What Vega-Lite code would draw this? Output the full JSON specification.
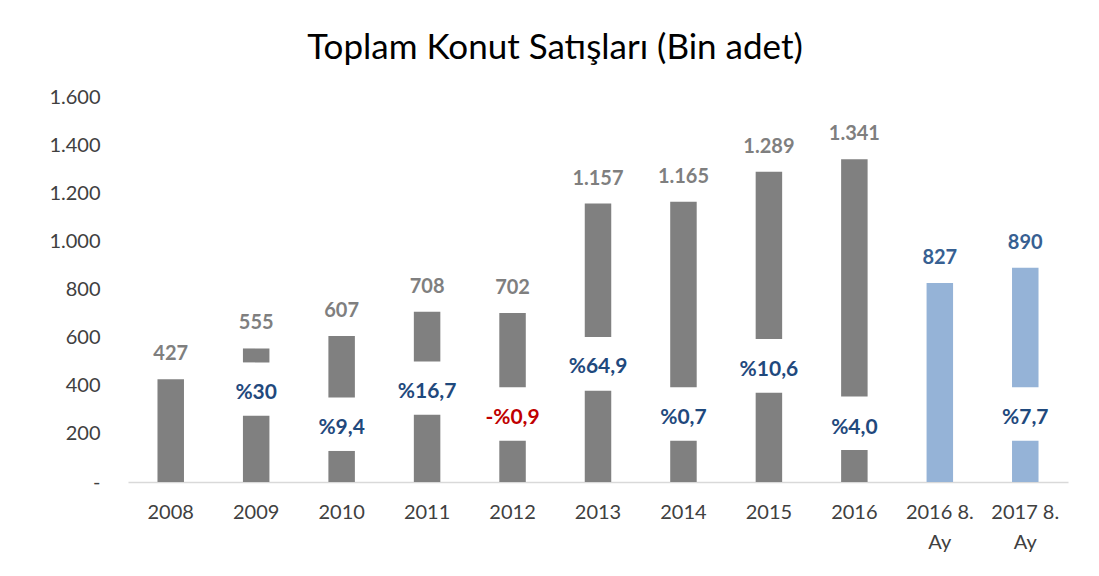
{
  "$schema": "https://vega.github.io/schema/vega-lite/v6.json",
  "autosize": "none",
  "width": 940,
  "height": 385,
  "padding": {"left": 128, "top": 97, "right": 31, "bottom": 94},
  "background": "white",
  "config": {
    "view": {"stroke": null},
    "font": "Lato",
    "locale": {"number": {"decimal": ",", "thousands": ".", "grouping": [3], "currency": ["", ""]}}
  },
  "title": {
    "text": "Toplam Konut Satışları (Bin adet)",
    "font": "Lato",
    "fontSize": 35,
    "fontWeight": "normal",
    "color": "#000000",
    "anchor": "middle",
    "dx": -43,
    "offset": 21
  },
  "data": {
    "values": [
      {"period": "2008", "type": "Yıllık", "value": 427, "lowTop": 427, "highBottom": null, "pctY": null, "change": null, "pct": null},
      {"period": "2009", "type": "Yıllık", "value": 555, "lowTop": 275, "highBottom": 497, "pctY": 370, "change": 30, "pct": "%30"},
      {"period": "2010", "type": "Yıllık", "value": 607, "lowTop": 129, "highBottom": 351, "pctY": 224, "change": 9.4, "pct": "%9,4"},
      {"period": "2011", "type": "Yıllık", "value": 708, "lowTop": 279, "highBottom": 501, "pctY": 374, "change": 16.7, "pct": "%16,7"},
      {"period": "2012", "type": "Yıllık", "value": 702, "lowTop": 171, "highBottom": 394, "pctY": 265, "change": -0.9, "pct": "-%0,9"},
      {"period": "2013", "type": "Yıllık", "value": 1157, "lowTop": 379, "highBottom": 603, "pctY": 478, "change": 64.9, "pct": "%64,9"},
      {"period": "2014", "type": "Yıllık", "value": 1165, "lowTop": 171, "highBottom": 394, "pctY": 265, "change": 0.7, "pct": "%0,7"},
      {"period": "2015", "type": "Yıllık", "value": 1289, "lowTop": 371, "highBottom": 594, "pctY": 467, "change": 10.6, "pct": "%10,6"},
      {"period": "2016", "type": "Yıllık", "value": 1341, "lowTop": 133, "highBottom": 355, "pctY": 226, "change": 4.0, "pct": "%4,0"},
      {"period": "2016 8. Ay", "type": "8 Ay", "value": 827, "lowTop": 827, "highBottom": null, "pctY": null, "change": null, "pct": null},
      {"period": "2017 8. Ay", "type": "8 Ay", "value": 890, "lowTop": 171, "highBottom": 394, "pctY": 265, "change": 7.7, "pct": "%7,7"}
    ]
  },
  "encoding": {
    "x": {
      "field": "period",
      "type": "nominal",
      "sort": null,
      "scale": {"paddingInner": 0.69, "paddingOuter": 0.345},
      "axis": {
        "title": null,
        "labelAngle": 0,
        "labelFont": "Lato",
        "labelFontSize": 20,
        "labelColor": "#404040",
        "labelPadding": 20,
        "labelLineHeight": 30,
        "labelExpr": "datum.label == '2016 8. Ay' ? ['2016 8.', 'Ay'] : datum.label == '2017 8. Ay' ? ['2017 8.', 'Ay'] : datum.label",
        "ticks": false,
        "tickSize": 0,
        "domainColor": "#D9D9D9",
        "domainWidth": 1.5,
        "grid": false
      }
    }
  },
  "layer": [
    {
      "mark": {"type": "bar", "stroke": null},
      "encoding": {
        "y": {
          "field": "lowTop",
          "type": "quantitative",
          "scale": {"domain": [0, 1600], "nice": false},
          "axis": {
            "title": null,
            "values": [0, 200, 400, 600, 800, 1000, 1200, 1400, 1600],
            "labelExpr": "datum.value == 0 ? '-' : replace(format(datum.value, ',d'), ',', '.')",
            "labelFont": "Lato",
            "labelFontSize": 20,
            "labelColor": "#404040",
            "labelPadding": 28,
            "ticks": false,
            "tickSize": 0,
            "domain": false,
            "grid": false,
            "encode": {"labels": {"update": {"dx": {"signal": "datum.value == 0 ? -11 : 0"}}}}
          }
        },
        "color": {
          "field": "type",
          "type": "nominal",
          "scale": {"domain": ["Yıllık", "8 Ay"], "range": ["#808080", "#95B3D7"]},
          "legend": null
        }
      }
    },
    {
      "transform": [{"filter": "isValid(datum.highBottom)"}],
      "mark": {"type": "bar", "stroke": null},
      "encoding": {
        "y": {"field": "highBottom", "type": "quantitative"},
        "y2": {"field": "value"},
        "color": {
          "field": "type",
          "type": "nominal",
          "scale": {"domain": ["Yıllık", "8 Ay"], "range": ["#808080", "#95B3D7"]},
          "legend": null
        }
      }
    },
    {
      "mark": {"type": "text", "font": "Lato", "fontSize": 20, "fontWeight": "bold", "baseline": "middle", "dy": -25},
      "encoding": {
        "y": {"field": "value", "type": "quantitative"},
        "text": {"field": "value", "type": "quantitative", "format": ",d"},
        "color": {
          "field": "type",
          "type": "nominal",
          "scale": {"domain": ["Yıllık", "8 Ay"], "range": ["#7F7F7F", "#376092"]},
          "legend": null
        }
      }
    },
    {
      "transform": [{"filter": "isValid(datum.pct)"}],
      "mark": {"type": "text", "font": "Lato", "fontSize": 21, "fontWeight": "bold", "baseline": "middle"},
      "encoding": {
        "y": {"field": "pctY", "type": "quantitative"},
        "text": {"field": "pct", "type": "nominal"},
        "color": {"condition": {"test": "datum.change < 0", "value": "#C00000"}, "value": "#1F497D"}
      }
    }
  ],
  "resolve": {"scale": {"color": "independent"}}
}
